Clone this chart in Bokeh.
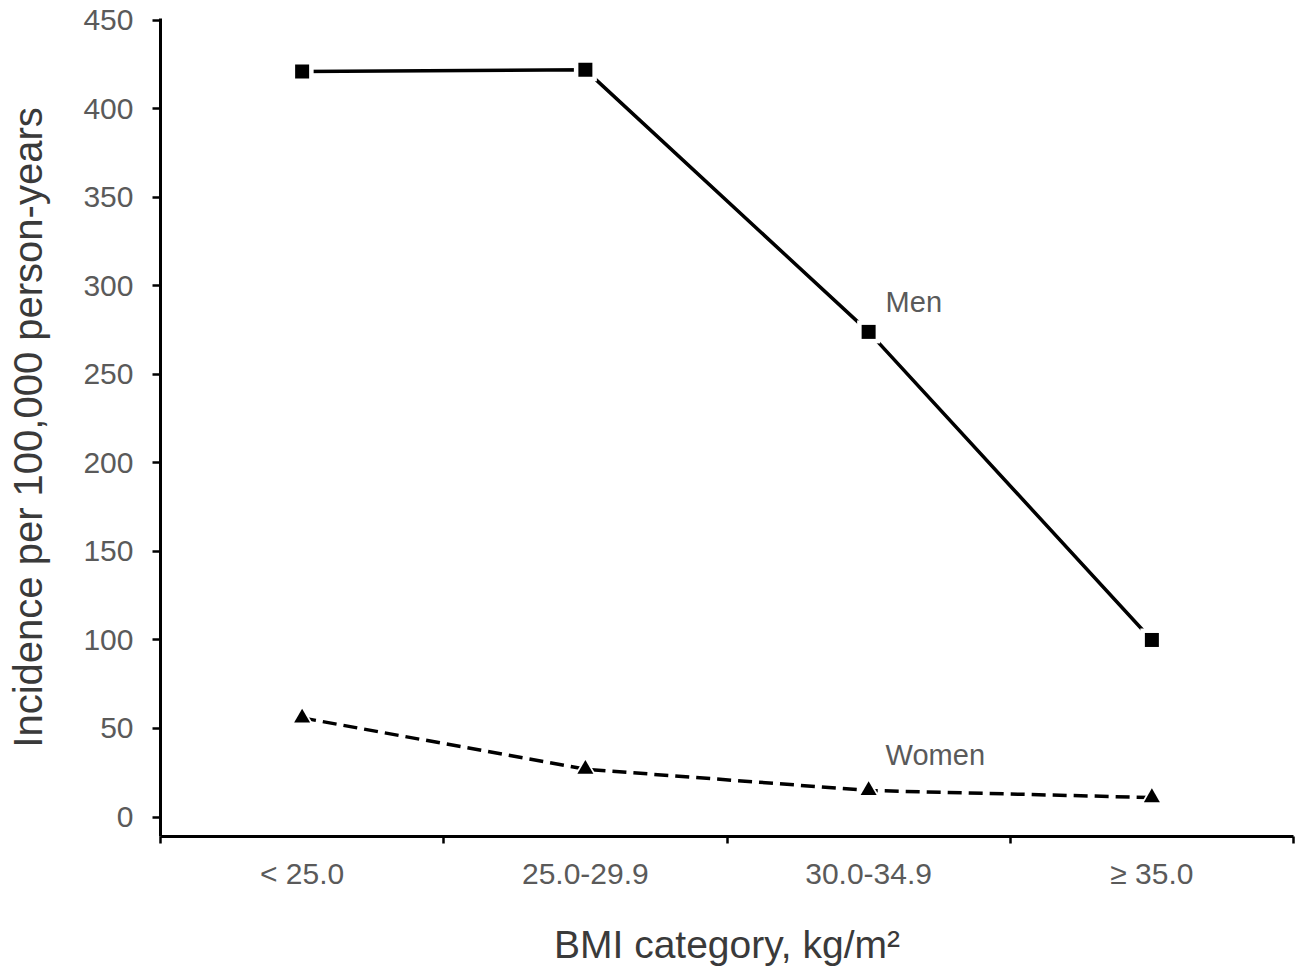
from bokeh.plotting import figure
from bokeh.models import Range1d, FixedTicker, Label
from bokeh.embed import file_html
from bokeh.resources import INLINE

# ---- data ----
categories = ["< 25.0", "25.0-29.9", "30.0-34.9", "\u2265 35.0"]
men = [421, 422, 274, 100]
women = [56, 27, 15, 11]
y_ticks = [0, 50, 100, 150, 200, 250, 300, 350, 400, 450]
series_names = ["Men", "Women"]

FONT = "Liberation Sans"

n = len(categories)
xc = [i + 0.5 for i in range(n)]          # category centres
xb = [float(i) for i in range(n + 1)]     # category boundaries

p = figure(width=1308, height=976, output_backend="svg", toolbar_location=None,
           x_range=Range1d(0, n), y_range=Range1d(-11, 451),
           min_border_left=160, min_border_right=15, min_border_top=18,
           min_border_bottom=140)

p.outline_line_color = None
p.grid.grid_line_color = None
p.background_fill_color = "white"
p.border_fill_color = "white"

# x axis
xa = p.xaxis[0]
xa.ticker = FixedTicker(ticks=xc, minor_ticks=xb)
xa.major_label_overrides = {c: lab for c, lab in zip(xc, categories)}
xa.major_tick_line_color = None
xa.major_tick_out = 0
xa.major_tick_in = 0
xa.minor_tick_out = 7
xa.minor_tick_in = 0
xa.minor_tick_line_width = 2.5
xa.minor_tick_line_color = "black"
xa.axis_line_width = 3
xa.axis_line_color = "black"
xa.major_label_text_font = FONT
xa.major_label_text_font_size = "30px"
xa.major_label_text_color = "#5a5a5a"
xa.major_label_standoff = 13
xa.axis_label = "BMI category, kg/m\u00b2"
xa.axis_label_text_font = FONT
xa.axis_label_text_font_size = "39px"
xa.axis_label_text_font_style = "normal"
xa.axis_label_text_color = "#3a3a3a"
xa.axis_label_standoff = 30

# y axis
ya = p.yaxis[0]
ya.ticker = FixedTicker(ticks=y_ticks)
ya.major_tick_out = 8
ya.major_tick_in = 0
ya.major_tick_line_width = 2.5
ya.major_tick_line_color = "black"
ya.minor_tick_line_color = None
ya.axis_line_width = 3
ya.axis_line_color = "black"
ya.major_label_text_font = FONT
ya.major_label_text_font_size = "30px"
ya.major_label_text_color = "#5a5a5a"
ya.major_label_standoff = 19
ya.axis_label = "Incidence per 100,000 person-years"
ya.axis_label_text_font = FONT
ya.axis_label_text_font_size = "40px"
ya.axis_label_text_font_style = "normal"
ya.axis_label_text_color = "#3a3a3a"
ya.axis_label_standoff = 30

# Men: solid line with squares
p.line(xc, men, line_color="black", line_width=3.5)
p.scatter(xc, men, marker="square", size=23, fill_color="white", line_color=None)
p.scatter(xc, men, marker="square", size=14, fill_color="black", line_color=None)

# Women: dashed line with triangles
p.line(xc, women, line_color="black", line_width=3.5, line_dash="14 7")
p.scatter(xc, women, marker="triangle", size=22, fill_color="white", line_color=None)
p.scatter(xc, women, marker="triangle", size=16, fill_color="black", line_color=None)

# series labels
p.add_layout(Label(x=2.56, y=291, text=series_names[0], text_font=FONT,
                   text_font_size="29px", text_color="#5a5a5a",
                   text_baseline="middle", text_align="left"))
p.add_layout(Label(x=2.56, y=35, text=series_names[1], text_font=FONT,
                   text_font_size="29px", text_color="#5a5a5a",
                   text_baseline="middle", text_align="left"))

open("out.html", "w").write(file_html(p, INLINE))
